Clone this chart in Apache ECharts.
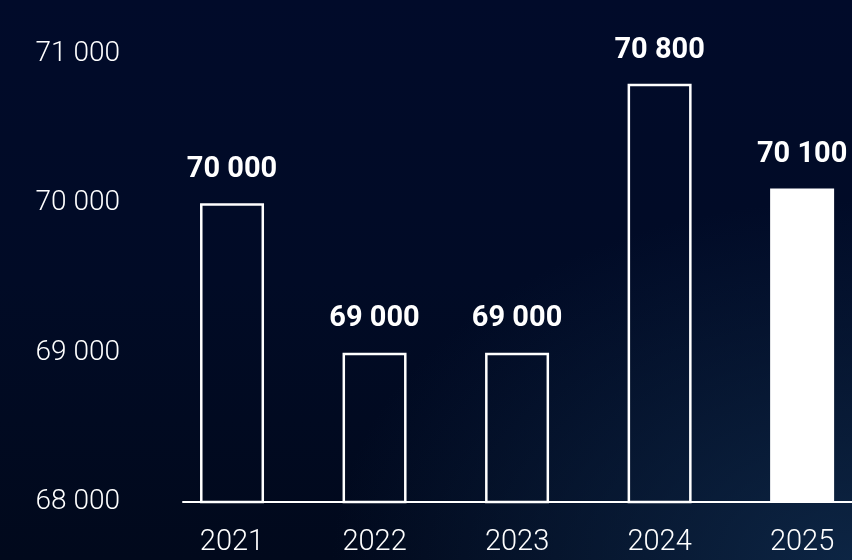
<!DOCTYPE html>
<html>
<head>
    <meta charset="utf-8">
    <title>Bar chart</title>
    <script src="https://cdn.jsdelivr.net/npm/echarts@6/dist/echarts.min.js"></script>
    <style>
        html, body { margin: 0; padding: 0; }
        body {
            width: 852px; height: 560px; overflow: hidden;
            background:
                radial-gradient(ellipse 520px 360px at 100% 100%, rgba(14, 40, 72, 0.9), rgba(14, 40, 72, 0) 100%),
                linear-gradient(180deg, #010b2a 0%, #010b26 50%, #01091c 100%);
        }
    </style>
</head>
<body>
    <div id="main" style="width:852px;height:560px;"></div>
    <script type="text/javascript">
        // data
        var years = ['2021', '2022', '2023', '2024', '2025'];
        var values = [70000, 69000, 69000, 70800, 70100];
        var yTicks = [68000, 69000, 70000, 71000];

        function fmt(v) {
            return String(v).replace(/\B(?=(\d{3})+(?!\d))/g, ' ');
        }

        var barData = [];
        for (var i = 0; i < values.length; i++) {
            var last = i === values.length - 1;
            barData.push({
                value: [i, values[i]],
                itemStyle: {
                    color: last ? '#ffffff' : 'rgba(0,0,0,0)',
                    borderColor: '#ffffff',
                    borderWidth: last ? 0 : 2.5
                }
            });
        }

        var myChart = echarts.init(document.getElementById('main'), null, { renderer: 'canvas' });
        var option = {
            backgroundColor: 'transparent',
            animation: false,
            grid: { left: 183, right: 0, top: 54, bottom: 58 },
            xAxis: {
                type: 'value',
                min: -0.344,
                max: 4.35,
                splitLine: { show: false },
                axisLine: { show: true, onZero: false, lineStyle: { color: '#ffffff', width: 2 } },
                axisTick: { show: false },
                axisLabel: {
                    customValues: [0, 1, 2, 3, 4],
                    formatter: function (v) { return years[Math.round(v)]; },
                    color: '#ffffff',
                    fontFamily: 'Roboto',
                    fontWeight: 300,
                    fontSize: 29,
                    margin: 26
                }
            },
            yAxis: {
                type: 'value',
                min: 68000,
                max: 71000,
                interval: 1000,
                splitLine: { show: false },
                axisLine: { show: false },
                axisTick: { show: false },
                axisLabel: {
                    formatter: function (v) { return yTicks.indexOf(v) >= 0 ? fmt(v) : ''; },
                    color: '#ffffff',
                    fontFamily: 'Roboto',
                    fontWeight: 300,
                    fontSize: 28,
                    margin: 63
                }
            },
            series: [{
                type: 'bar',
                barWidth: 64,
                data: barData,
                label: {
                    show: true,
                    position: 'top',
                    distance: 19,
                    formatter: function (p) { return fmt(p.value[1]); },
                    color: '#ffffff',
                    fontFamily: 'Roboto',
                    fontWeight: 'bold',
                    fontSize: 29
                }
            }]
        };
        myChart.setOption(option);
    </script>
</body>
</html>
